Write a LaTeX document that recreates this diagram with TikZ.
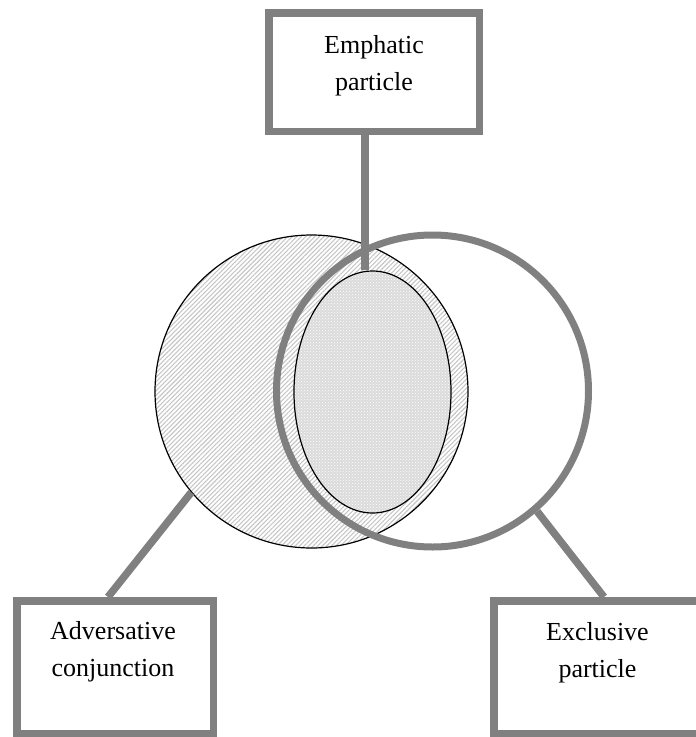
\documentclass[tikz,border=0pt]{standalone}
\usepackage{fontspec}
\setmainfont{Liberation Serif}
\usetikzlibrary{shapes.geometric,patterns,patterns.meta}
\definecolor{cgray}{RGB}{128,128,128}
\begin{document}
\begin{tikzpicture}[x=1pt,y=-1pt,
  box/.style={draw=cgray,line width=7.5pt,rectangle,inner sep=0pt},
  conn/.style={draw=cgray,line width=7.5pt},
  lbl/.style={align=center,font=\fontsize{26}{37}\selectfont,inner sep=0pt}]
\clip (0,0) rectangle (696,737);
% left hatched circle
\node[circle,draw=black,line width=1.2pt,minimum size=313pt,inner sep=0pt,
  pattern={Lines[angle=45,distance=3.2pt,line width=1.1pt]},pattern color=gray!45] (lc) at (311.5,391.5) {};
% inner ellipse
\node[ellipse,draw=black,line width=1.2pt,minimum width=157pt,minimum height=242pt,inner sep=0pt,
  preaction={fill=gray!28},pattern=crosshatch dots,pattern color=white] (ell) at (372.5,392) {};
% right circle
\node[circle,draw=cgray,line width=7pt,minimum size=312pt,inner sep=0pt] (rc) at (432.5,391) {};
% boxes
\node[box,minimum width=210.5pt,minimum height=118.5pt] (tbox) at (374,72) {};
\node[box,minimum width=196.5pt,minimum height=132.5pt] (lbox) at (115,667) {};
\node[box,minimum width=208pt,minimum height=132.5pt] (rbox) at (598,667) {};
% labels
\node[lbl] (tt) at (374,66) {Emphatic\\particle};
\node[lbl] (lt) at (113,652) {Adversative\\conjunction};
\node[lbl] (rt) at (597.5,653) {Exclusive\\particle};
% connectors
\coordinate (tc) at ([xshift=-9pt]tbox.south);
\draw[conn] (tc) -- (tc |- ell.north);
\coordinate (lcn) at ([xshift=-7pt]lbox.north);
\draw[conn] (lcn) -- (lc.220);
\coordinate (rcn) at ([xshift=6pt]rbox.north);
\draw[conn] (rcn) -- (rc.-49);
\end{tikzpicture}
\end{document}
